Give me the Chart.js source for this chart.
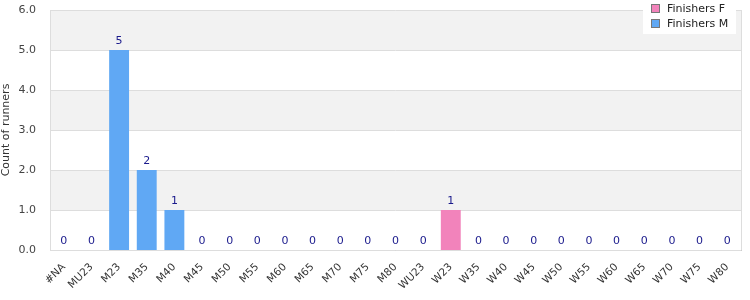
<!DOCTYPE html>
<html>
<head>
<meta charset="utf-8">
<script src="https://cdn.jsdelivr.net/npm/chart.js@4"></script>
<style>
  html, body { margin: 0; padding: 0; background: #fff; }
  #wrap { width: 750px; height: 300px; }
</style>
</head>
<body>
<div id="wrap"><canvas id="chart" width="750" height="300"></canvas></div>
<script>
// --- data ---
const categories = ['#NA', 'MU23', 'M23', 'M35', 'M40', 'M45', 'M50', 'M55', 'M60', 'M65', 'M70', 'M75', 'M80',
    'WU23', 'W23', 'W35', 'W40', 'W45', 'W50', 'W55', 'W60', 'W65', 'W70', 'W75', 'W80'];
const finishersF = [0, 0, 0, 0, 0, 0, 0, 0, 0, 0, 0, 0, 0, 0, 1, 0, 0, 0, 0, 0, 0, 0, 0, 0, 0];
const finishersM = [0, 0, 5, 2, 1, 0, 0, 0, 0, 0, 0, 0, 0, 0, 0, 0, 0, 0, 0, 0, 0, 0, 0, 0, 0];
const yMax = 6;
const yStep = 1;

const FONT = '"DejaVu Sans", sans-serif';

// alternating bands + plot frame
const bandsPlugin = {
    id: 'bands',
    beforeDatasetsDraw(chart) {
        const { ctx, chartArea: a, scales: { y } } = chart;
        ctx.save();
        for (let v = 0; v < yMax; v += yStep) {
            const top = y.getPixelForValue(v + yStep);
            const bot = y.getPixelForValue(v);
            ctx.fillStyle = (Math.round(v / yStep) % 2 === 1) ? '#f2f2f2' : '#ffffff';
            ctx.fillRect(a.left, top, a.right - a.left, bot - top);
        }
        // gridlines on top of bands
        ctx.strokeStyle = '#dddddd';
        ctx.lineWidth = 1;
        for (let v = 0; v <= yMax; v += yStep) {
            const py = Math.round(y.getPixelForValue(v)) + 0.5;
            ctx.beginPath();
            ctx.moveTo(a.left, py);
            ctx.lineTo(a.right, py);
            ctx.stroke();
        }
        ctx.beginPath();
        ctx.moveTo(Math.round(a.right) + 0.5, a.top);
        ctx.lineTo(Math.round(a.right) + 0.5, a.bottom);
        ctx.moveTo(Math.round(a.left) + 0.5, a.top);
        ctx.lineTo(Math.round(a.left) + 0.5, a.bottom);
        ctx.stroke();
        ctx.restore();
    }
};

// total labels above each stacked column
const totalsPlugin = {
    id: 'totals',
    afterDatasetsDraw(chart) {
        const { ctx, scales: { x, y } } = chart;
        ctx.save();
        ctx.font = '11px ' + FONT;
        ctx.fillStyle = '#1a1a8c';
        ctx.textAlign = 'center';
        ctx.textBaseline = 'bottom';
        categories.forEach((c, i) => {
            const total = finishersF[i] + finishersM[i];
            ctx.fillText(String(total), x.getPixelForValue(i), y.getPixelForValue(total) - 3);
        });
        ctx.restore();
    }
};

// legend box in the top right corner
const legendPlugin = {
    id: 'cornerLegend',
    afterDraw(chart) {
        const { ctx } = chart;
        const items = chart.data.datasets;
        ctx.save();
        ctx.fillStyle = '#ffffff';
        ctx.fillRect(643, 0, 93, 34);
        ctx.font = '11px ' + FONT;
        ctx.textBaseline = 'middle';
        ctx.textAlign = 'left';
        items.forEach((ds, i) => {
            const cy = 8 + i * 15;
            ctx.fillStyle = ds.backgroundColor;
            ctx.fillRect(651.5, cy - 3.5, 8, 8);
            ctx.strokeStyle = '#777777';
            ctx.lineWidth = 1;
            ctx.strokeRect(651.5, cy - 3.5, 8, 8);
            ctx.fillStyle = '#222222';
            ctx.fillText(ds.label, 667, cy + 1);
        });
        ctx.restore();
    }
};

new Chart(document.getElementById('chart'), {
    type: 'bar',
    data: {
        labels: categories,
        datasets: [
            { label: 'Finishers F', data: finishersF, backgroundColor: '#f283bb', barPercentage: 0.72, categoryPercentage: 1 },
            { label: 'Finishers M', data: finishersM, backgroundColor: '#60a8f4', barPercentage: 0.72, categoryPercentage: 1 }
        ]
    },
    options: {
        responsive: false,
        animation: false,
        layout: { padding: { top: 10, right: 9, left: 0, bottom: 0 } },
        plugins: { legend: { display: false }, tooltip: { enabled: false } },
        scales: {
            x: {
                stacked: true,
                grid: { display: false },
                border: { color: '#cccccc' },
                ticks: {
                    color: '#333333',
                    font: { family: FONT, size: 10.5 },
                    minRotation: 45, maxRotation: 45,
                    autoSkip: false
                },
                afterFit(s) { s.height = 50; s.paddingLeft = 0; s.paddingRight = 0; }
            },
            y: {
                stacked: true,
                min: 0, max: yMax,
                grid: { display: false },
                border: { display: false },
                ticks: {
                    stepSize: yStep,
                    color: '#444444',
                    font: { family: FONT, size: 11 },
                    padding: 6,
                    callback: v => Number(v).toFixed(1)
                },
                title: {
                    display: true,
                    text: 'Count of runners',
                    color: '#333333',
                    font: { family: FONT, size: 11 },
                    padding: { top: 0, bottom: 4 }
                },
                afterFit(s) { s.width = 50; s.paddingTop = 0; s.paddingBottom = 0; }
            }
        }
    },
    plugins: [bandsPlugin, totalsPlugin, legendPlugin]
});
</script>
</body>
</html>
